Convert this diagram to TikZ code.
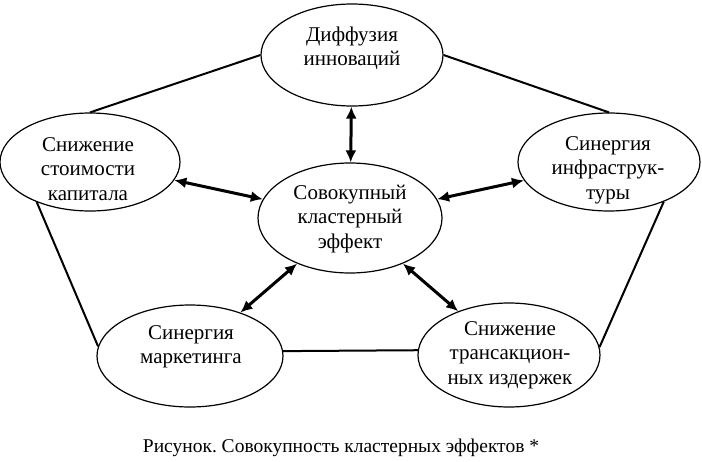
\documentclass[tikz,border=0pt]{standalone}
\usepackage{fontspec}
\setmainfont{Liberation Serif}
\usetikzlibrary{shapes.geometric,arrows.meta}
\frenchspacing
\begin{document}
\begin{tikzpicture}[x=1pt,y=-1pt,
  ell/.style={draw,ellipse,line width=1.2pt,inner sep=0pt},
  lbl/.style={align=center,font=\fontsize{21}{24.5}\selectfont,inner sep=0pt},
  link/.style={line width=2pt},
  arr/.style={line width=3pt,{Latex[length=12pt,width=11pt]}-{Latex[length=12pt,width=11pt]}}]
\useasboundingbox (0,0) rectangle (702,461);
\node[ell,minimum width=182pt,minimum height=102pt] (top) at (352,55) {};
\node[ell,minimum width=180pt,minimum height=98pt] (left) at (90,162) {};
\node[ell,minimum width=182pt,minimum height=98pt] (right) at (609,162) {};
\node[ell,minimum width=184pt,minimum height=110pt] (center) at (350,218) {};
\node[ell,minimum width=186pt,minimum height=102pt] (bl) at (190,356) {};
\node[ell,minimum width=182pt,minimum height=104pt] (br) at (509,355) {};
\node[lbl] (topT) at (352,48) {Диффузия\\инноваций};
\node[lbl] (leftT) at (88,169) {Снижение\\стоимости\\капитала};
\node[lbl] (rightT) at (608,170) {Синергия\\инфраструк-\\туры};
\node[lbl] (centerT) at (350,219) {Совокупный\\кластерный\\эффект};
\node[lbl] (blT) at (191,347) {Синергия\\маркетинга};
\node[lbl] (brT) at (510,355) {Снижение\\трансакцион-\\ных издержек};
\node[font=\fontsize{19.5}{22}\selectfont,inner sep=0pt] (cap) at (341,448) {Рисунок. Совокупность кластерных эффектов *};
\draw[link] (top.west) -- (left.north);
\draw[link] (top.east) -- (right.north);
\draw[link] (left.217) -- (bl.174);
\draw[link] (right.324) -- (br.5);
\draw[link] (bl.3) -- (br.177);
\draw[arr] (top) -- (center);
\draw[arr] (left) -- (center);
\draw[arr] (right) -- (center);
\draw[arr] (bl) -- (center);
\draw[arr] (br) -- (center);
\end{tikzpicture}
\end{document}
